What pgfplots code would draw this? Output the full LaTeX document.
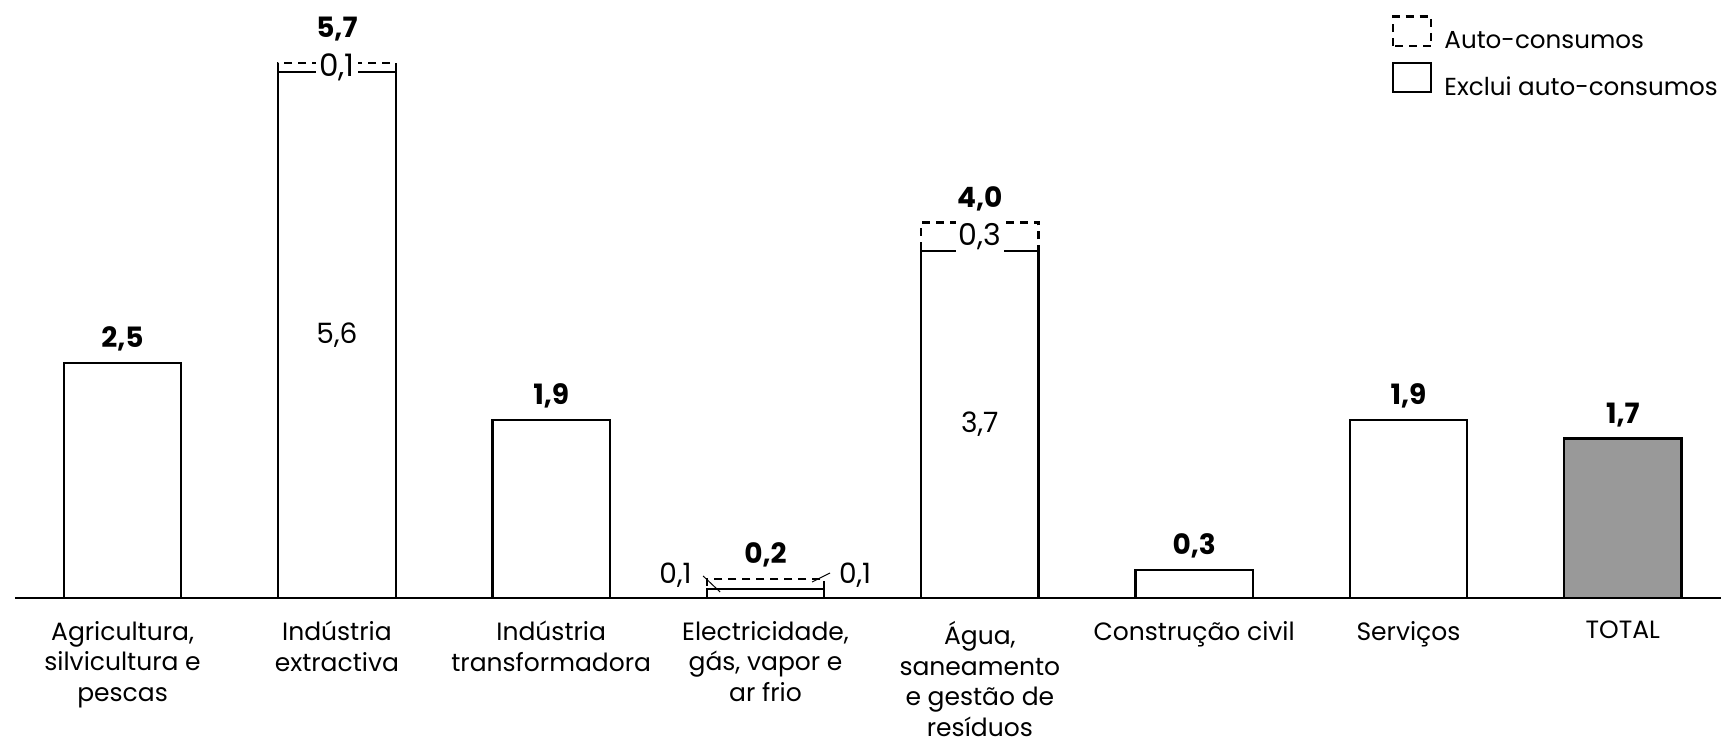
\documentclass[border=0pt]{standalone}
\usepackage{fontspec}
\setmainfont{Poppins}
\usepackage{pgfplots}
\pgfplotsset{compat=1.18}

\definecolor{totalgray}{RGB}{153,153,153}

\begin{document}
\begin{tikzpicture}
\useasboundingbox (-7.7pt,-72.5pt) rectangle (852.8pt,299pt);
\begin{axis}[
  at={(0,0)}, anchor=south west,
  scale only axis, width=852.8pt, height=299pt,
  xmin=-0.5, xmax=7.458, ymin=0, ymax=6.37,
  clip=false,
  axis y line=none,
  axis x line*=bottom,
  x axis line style={line width=0.7pt, -},
  xtick={0,...,7}, major tick length=0pt,
  xticklabels={{Agricultura,\\silvicultura e\\pescas},
               {Indústria\\extractiva},
               {Indústria\\transformadora},
               {Electricidade,\\gás, vapor e\\ar frio},
               {Água,\\saneamento\\e gestão de\\resíduos},
               {Construção civil},
               {Serviços},
               {TOTAL}},
  xticklabel style={align=center, anchor=north, yshift=-8pt,
                    font=\fontsize{12.5}{15.4}\selectfont},
  ybar, bar width=0.548,
  /pgf/number format/.cd, use comma, fixed, fixed zerofill, precision=1,
  assume math mode=true,
  /pgfplots/.cd,
  every node near coord/.append style={font=\bfseries\fontsize{14}{16}\selectfont,
                                       yshift=2pt},
  legend cell align=left,
  legend style={draw=none, fill=none, at={(0.807,0.975)}, anchor=north west,
                inner sep=0pt, row sep=5pt, column sep=6pt,
                nodes={inner sep=0pt},
                font=\fontsize{12.3}{15}\selectfont},
  legend image code/.code={\draw[#1] (0pt,-2.2pt) rectangle (19pt,12.6pt);},
]
% bars with auto-consumption: full height drawn dashed, solid part drawn over it
\addplot[bar shift=0pt, draw=black, fill=white, line width=1.1pt,
         dash pattern=on 4pt off 3pt, nodes near coords]
  coordinates {(3,0.2) (4,4.0)};
\addlegendentry{Auto-consumos}
\addplot[bar shift=0pt, draw=black, fill=white, line width=1.1pt, nodes near coords]
  coordinates {(0,2.5) (2,1.9) (5,0.3) (6,1.9)};
\addlegendentry{Exclui auto-consumos}
\addplot[bar shift=0pt, draw=black, fill=white, line width=1.1pt,
         dash pattern=on 4pt off 3pt, nodes near coords, forget plot,
         every node near coord/.append style={yshift=5pt}]
  coordinates {(1,5.7)};
\addplot[bar shift=0pt, draw=black, fill=white, line width=1.1pt, forget plot]
  coordinates {(1,5.6) (3,0.1) (4,3.7)};
\addplot[bar shift=0pt, draw=black, fill=totalgray, line width=1.1pt,
         nodes near coords, forget plot]
  coordinates {(7,1.7)};
% leader lines for the small electricity bar
\addplot[sharp plot, black, line width=0.5pt, mark=none, forget plot]
  coordinates {(2.709,0.234) (2.788,0.064)};
\addplot[sharp plot, black, line width=0.5pt, mark=none, forget plot]
  coordinates {(3.301,0.266) (3.217,0.17)};
% segment labels
\node[fill=white, inner sep=1.5pt, font=\fontsize{15.5}{17}\selectfont] at (axis cs:1,5.65) {0,1};
\node[font=\fontsize{14}{16}\selectfont] at (axis cs:1,2.8) {5,6};
\node[fill=white, inner sep=1.5pt, font=\fontsize{15}{17}\selectfont] at (axis cs:4,3.85) {0,3};
\node[font=\fontsize{14}{16}\selectfont] at (axis cs:4,1.85) {3,7};
\node[font=\fontsize{14}{16}\selectfont] at (axis cs:2.58,0.245) {0,1};
\node[font=\fontsize{14}{16}\selectfont] at (axis cs:3.418,0.245) {0,1};
\end{axis}
\end{tikzpicture}
\end{document}
